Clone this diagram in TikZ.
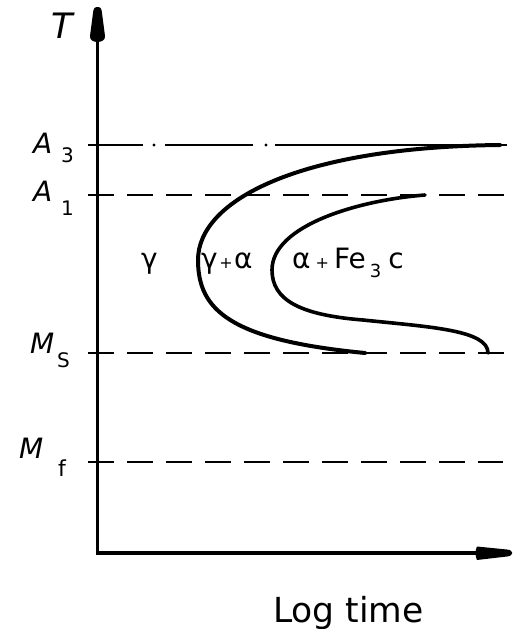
\documentclass[tikz,border=0pt]{standalone}
\usepackage{fontspec}
\setmainfont{DejaVu Sans}
\begin{document}
\begin{tikzpicture}[x=1pt,y=-1pt,
  axisline/.style={line width=3.4pt},
  levelline/.style={line width=2.8pt},
  dashline/.style={line width=2.8pt,dash pattern=on 26pt off 13pt},
  curveline/.style={line width=4pt,line cap=round,line join=round},
  lbl/.style={anchor=base west,inner sep=0pt,font=\fontsize{28}{30}\selectfont\itshape},
  sub/.style={anchor=base west,inner sep=0pt,font=\fontsize{20}{22}\selectfont},
  phase/.style={anchor=base west,inner sep=0pt,font=\fontsize{28}{30}\selectfont}]
\useasboundingbox (0,0) rectangle (515,629);
% axes
\coordinate (O) at (97.5,553);
\coordinate (Ytop) at (97.5,40);
\coordinate (Xstart) at (96,553);
\coordinate (Xend) at (480,553);
\draw[axisline] (O) -- (Ytop);
\draw[axisline] (Xstart) -- (Xend);
\fill (97.5,7) .. controls (101,7) and (101.5,9) .. (102,13) -- (105,36)
  .. controls (106,44) and (89,44) .. (90,36) -- (93,13)
  .. controls (93.5,9) and (94,7) .. (97.5,7) -- cycle;
\fill (477,546.5) -- (507,549.5) .. controls (514,550) and (514,556) .. (507,556.5)
  -- (477,560) .. controls (475,556) and (475,550) .. (477,546.5) -- cycle;
% A3 dash-dot line
\draw[levelline] (88,145) -- (143,145);
\fill (154,145) circle (1.6);
\draw[levelline] (165,145) -- (253,145);
\fill (266,145) circle (1.6);
\draw[levelline] (275,145) -- (507,145);
% dashed lines
\draw[dashline] (88,195) -- (505,195);
\draw[dashline] (88,353) -- (507,353);
\draw[dashline] (88,462) -- (503,462);
% curves
\coordinate (c1a) at (500,145);
\coordinate (c1b) at (198,260);
\coordinate (c1c) at (365,353);
\draw[curveline] (c1a) .. controls (300,147) and (198,200) .. (c1b)
  .. controls (198,310) and (230,340) .. (c1c);
\coordinate (c2a) at (425,195);
\coordinate (c2b) at (272,270);
\coordinate (c2c) at (363,320);
\coordinate (c2d) at (488,353);
\draw[curveline,line width=3.6pt] (c2a) .. controls (360,200) and (272,225) .. (c2b)
  .. controls (272,300) and (300,315) .. (c2c)
  .. controls (430,327) and (488,330) .. (c2d);
% labels
\node[anchor=base west,inner sep=0pt,font=\fontsize{35}{37}\selectfont\itshape] (T) at (51,38) {T};
\node[lbl] (A3) at (33,153) {A};
\node[sub] (A3s) at (61,162) {3};
\node[lbl] (A1) at (33,201) {A};
\node[sub] (A1s) at (61,215) {1};
\node[lbl] (Ms) at (30,353) {M};
\node[sub] (Mss) at (57,367) {S};
\node[lbl] (Mf) at (19,458) {M};
\node[sub,font=\fontsize{22}{24}\selectfont] (Mfs) at (58,476) {f};
\node[phase] (g) at (141,268) {γ};
\node[phase] (ga) at (201,268) {γ\hspace{1.5pt}{\fontsize{16}{16}\selectfont+}\hspace{1.5pt}α};
\node[phase] (af) at (292,268) {α\hspace{5pt}{\fontsize{16}{16}\selectfont+}\hspace{5pt}Fe\hspace{4pt}\raisebox{-9pt}{\fontsize{18}{18}\selectfont 3}\hspace{7pt}c};
\node[anchor=base west,inner sep=0pt,font=\fontsize{34.5}{36}\selectfont] (lt) at (273,622) {Log time};
\end{tikzpicture}
\end{document}
